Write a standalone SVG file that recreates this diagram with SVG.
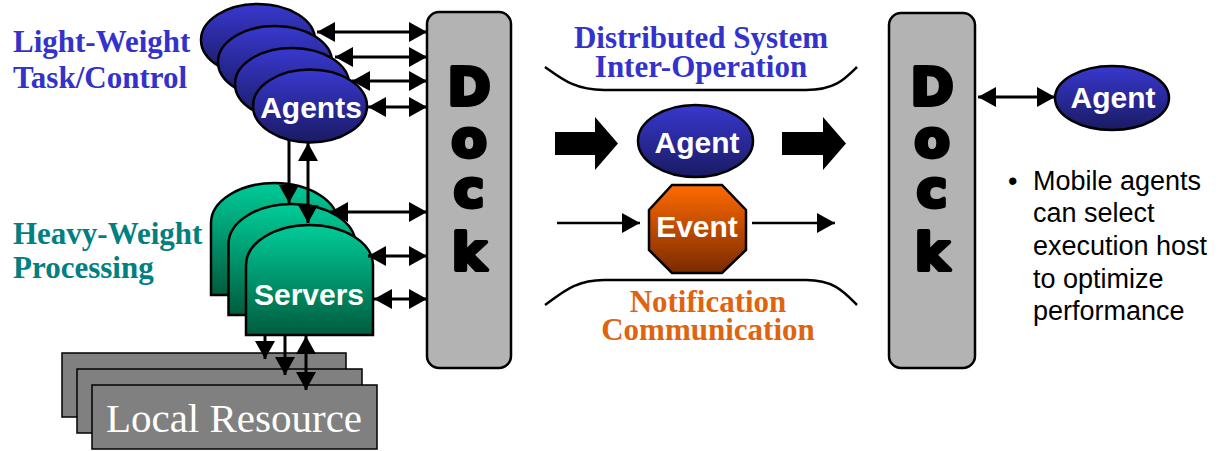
<svg xmlns="http://www.w3.org/2000/svg" width="1223" height="451" viewBox="0 0 1223 451">
  <defs>
    <linearGradient id="gBlue" x1="0" y1="0" x2="0" y2="1">
      <stop offset="0" stop-color="#3838d0"/>
      <stop offset="1" stop-color="#1a1a62"/>
    </linearGradient>
    <linearGradient id="gGreen" x1="0" y1="0" x2="0" y2="1">
      <stop offset="0" stop-color="#00cc99"/>
      <stop offset="1" stop-color="#005c3e"/>
    </linearGradient>
    <linearGradient id="gOrange" x1="0" y1="0" x2="0" y2="1">
      <stop offset="0" stop-color="#ff6a00"/>
      <stop offset="1" stop-color="#7a2a00"/>
    </linearGradient>
    <marker id="ah" markerUnits="userSpaceOnUse" markerWidth="19" markerHeight="20" refX="18" refY="10" orient="auto-start-reverse" viewBox="0 0 19 20">
      <path d="M0,0 L18,10 L0,20 Z" fill="#000"/>
    </marker>
    <style>
      .agent { fill: url(#gBlue); stroke: #000; stroke-width: 2.5; }
      .server { fill: url(#gGreen); stroke: #000; stroke-width: 2.5; }
      .dock { fill: #b3b3b3; stroke: #000; stroke-width: 2.5; }
      .res { fill: #808080; stroke: #000; stroke-width: 1.5; }
      .dockTxt { font-family: "DejaVu Sans", sans-serif; font-weight: bold; font-size: 52px; fill: #000; stroke: #000; stroke-width: 4; stroke-linejoin: round; text-anchor: middle; }
      .lbl { font-family: "Liberation Sans", Arial, sans-serif; font-weight: bold; font-size: 30px; fill: #fff; text-anchor: middle; }
      .head { font-family: "Liberation Serif", "Times New Roman", serif; font-weight: bold; font-size: 31px; }
      .blue { fill: #3333cc; }
      .teal { fill: #008080; }
      .orange { fill: #e06410; }
      .conn { stroke: #000; stroke-width: 3; fill: none; }
      .thin { stroke: #000; stroke-width: 2.5; fill: none; }
      .brace { stroke: #000; stroke-width: 2.5; fill: none; }
      .note { font-family: "Liberation Sans", Arial, sans-serif; font-size: 27px; fill: #000; }
    </style>
  </defs>

  <rect width="1223" height="451" fill="#fff"/>

  <!-- side headings -->
  <g id="light-weight-label">
    <text class="head blue"><tspan x="13" y="52">Light-Weight</tspan><tspan x="13" y="88">Task/Control</tspan></text>
  </g>
  <g id="heavy-weight-label">
    <text class="head teal"><tspan x="13" y="244">Heavy-Weight</tspan><tspan x="13" y="278">Processing</tspan></text>
  </g>

  <!-- local resources (stacked) -->
  <g id="local-resource">
    <rect class="res" x="62" y="353" width="284" height="64"/>
    <rect class="res" x="77" y="369" width="285" height="64"/>
    <rect class="res" x="92" y="385" width="285" height="64"/>
    <text x="234" y="432" font-family="'Liberation Serif', 'Times New Roman', serif" font-size="41" fill="#fff" text-anchor="middle">Local Resource</text>
  </g>

  <!-- servers (stacked) -->
  <g id="servers">
    <path class="server" d="M211,223 A63.5,40 0 0 1 338,223 L338,295 L211,295 Z"/>
    <path class="server" d="M228.5,244 A63.5,40 0 0 1 355.5,244 L355.5,315 L228.5,315 Z"/>
    <path class="server" d="M246,265 A63.5,40 0 0 1 373,265 L373,335 L246,335 Z"/>
    <text class="lbl" x="309" y="305">Servers</text>
  </g>

  <!-- agents (stacked) -->
  <g id="agents">
    <ellipse class="agent" cx="258" cy="40" rx="57" ry="36"/>
    <ellipse class="agent" cx="275" cy="62" rx="57" ry="36"/>
    <ellipse class="agent" cx="292" cy="84" rx="57" ry="36"/>
    <ellipse class="agent" cx="310" cy="106" rx="57" ry="36.5"/>
    <text class="lbl" x="311" y="118">Agents</text>
  </g>

  <!-- docks: vertical lettering -->
  <g id="dock-left">
    <rect class="dock" x="427" y="12" width="84" height="356" rx="12"/>
    <text class="dockTxt"><tspan x="469" y="105">D</tspan><tspan x="469" y="157">o</tspan><tspan x="469" y="207">c</tspan><tspan x="469" y="270">k</tspan></text>
  </g>
  <g id="dock-right">
    <rect class="dock" x="889" y="13" width="86" height="355" rx="12"/>
    <text class="dockTxt"><tspan x="932" y="105">D</tspan><tspan x="932" y="157">o</tspan><tspan x="932" y="207">c</tspan><tspan x="932" y="270">k</tspan></text>
  </g>

  <!-- middle: distributed inter-operation -->
  <g id="interop-label">
    <text class="head blue" text-anchor="middle"><tspan x="701" y="48">Distributed System</tspan><tspan x="701" y="77">Inter-Operation</tspan></text>
  </g>
  <g id="agent-mid">
    <ellipse class="agent" cx="695.5" cy="141" rx="57.5" ry="36"/>
    <text class="lbl" x="697" y="153">Agent</text>
  </g>
  <g id="event">
    <polygon points="672,185 722,185 746,210 746,250 722,273 672,273 649,250 649,210" fill="url(#gOrange)" stroke="#000" stroke-width="2.5"/>
    <text class="lbl" x="697" y="237">Event</text>
  </g>
  <g id="notification-label">
    <text class="head orange" text-anchor="middle"><tspan x="708" y="312">Notification</tspan><tspan x="708" y="340">Communication</tspan></text>
  </g>

  <!-- right side -->
  <g id="agent-right">
    <ellipse class="agent" cx="1112" cy="98" rx="57" ry="32"/>
    <text class="lbl" x="1113" y="108">Agent</text>
  </g>
  <g id="note" class="note">
    <text x="1008" y="190">•</text>
    <text x="1033" y="190">Mobile agents</text>
    <text x="1033" y="222">can select</text>
    <text x="1033" y="255">execution host</text>
    <text x="1033" y="288">to optimize</text>
    <text x="1033" y="320">performance</text>
  </g>

  <!-- connectors -->
  <g id="connectors">
    <!-- agents to dock -->
    <line class="conn" x1="317" y1="32" x2="427" y2="32" marker-start="url(#ah)" marker-end="url(#ah)"/>
    <line class="conn" x1="335" y1="57" x2="427" y2="57" marker-start="url(#ah)" marker-end="url(#ah)"/>
    <line class="conn" x1="352" y1="81" x2="427" y2="81" marker-start="url(#ah)" marker-end="url(#ah)"/>
    <line class="conn" x1="368" y1="107" x2="427" y2="107" marker-start="url(#ah)" marker-end="url(#ah)"/>
    <!-- servers to dock -->
    <line class="conn" x1="330" y1="212" x2="427" y2="212" marker-start="url(#ah)" marker-end="url(#ah)"/>
    <line class="conn" x1="368" y1="256" x2="427" y2="256" marker-start="url(#ah)" marker-end="url(#ah)"/>
    <line class="conn" x1="374" y1="299" x2="427" y2="299" marker-start="url(#ah)" marker-end="url(#ah)"/>
    <!-- agents to servers -->
    <line class="conn" x1="289" y1="140" x2="289" y2="203" marker-end="url(#ah)"/>
    <line class="conn" x1="308" y1="143" x2="308" y2="223" marker-start="url(#ah)" marker-end="url(#ah)"/>
    <!-- servers to local resources -->
    <line class="conn" x1="265" y1="335" x2="265" y2="359" marker-end="url(#ah)"/>
    <line class="conn" x1="285" y1="335" x2="285" y2="375" marker-end="url(#ah)"/>
    <line class="conn" x1="306" y1="336" x2="306" y2="390" marker-start="url(#ah)" marker-end="url(#ah)"/>
    <!-- block arrows -->
    <polygon points="555,132 595,132 595,117 618,143.5 595,170 595,155 555,155" fill="#000"/>
    <polygon points="782,132 823,132 823,117 846,143.5 823,170 823,155 782,155" fill="#000"/>
    <!-- event arrows -->
    <line class="thin" x1="557" y1="223" x2="640" y2="223" marker-end="url(#ah)"/>
    <line class="thin" x1="752" y1="223" x2="835" y2="223" marker-end="url(#ah)"/>
    <!-- dock to right agent -->
    <line class="conn" x1="978" y1="97" x2="1055" y2="97" marker-start="url(#ah)" marker-end="url(#ah)"/>
    <!-- braces -->
    <path class="brace" d="M545,67 C562,79 575,90 604,90 L806,90 C835,90 845,79 857,67"/>
    <path class="brace" d="M545,305 C562,293 575,280 604,280 L806,280 C835,280 845,293 857,305"/>
  </g>
</svg>
